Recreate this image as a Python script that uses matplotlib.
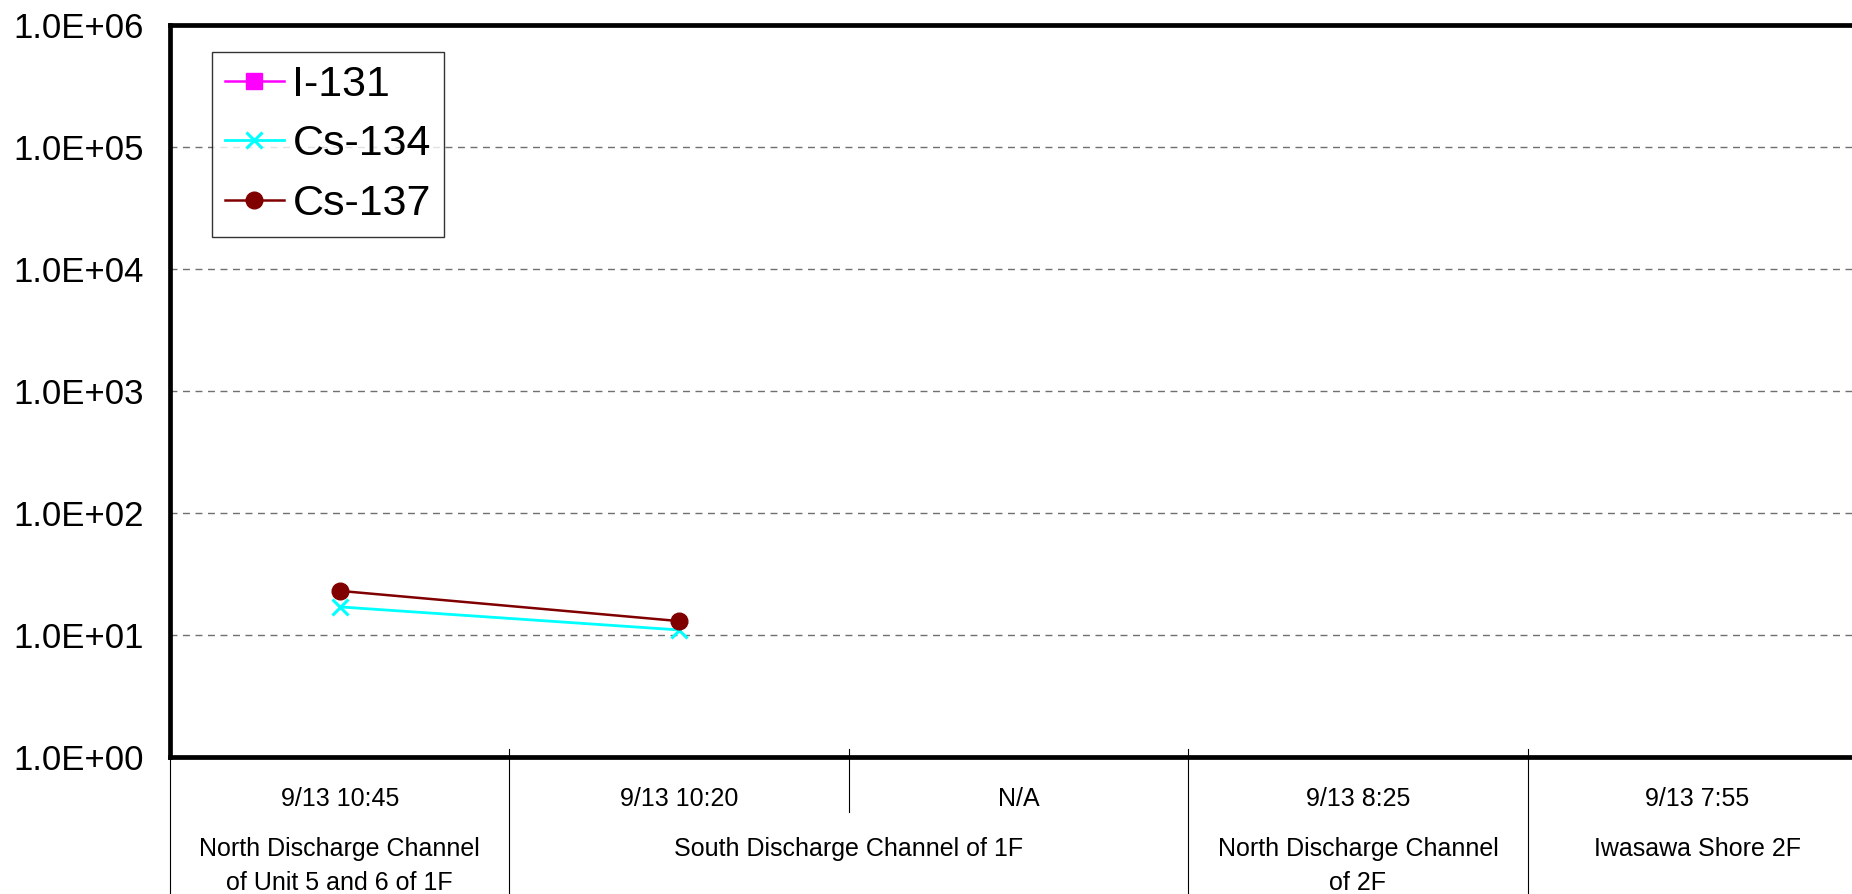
import matplotlib
matplotlib.use('Agg')
import matplotlib.pyplot as plt
import matplotlib.transforms as mtransforms
from matplotlib.ticker import FixedLocator, FuncFormatter
import numpy as np

# sampling times (one per category) and sampling locations
times = ['9/13 10:45', '9/13 10:20', 'N/A', '9/13 8:25', '9/13 7:55']
locations = ['North Discharge Channel\nof Unit 5 and 6 of 1F',
             'South Discharge Channel of 1F',
             'North Discharge Channel\nof 2F',
             'Iwasawa Shore 2F']
location_span = [(0, 0), (1, 2), (3, 3), (4, 4)]

# Bq/L, None = not detected
i131 = [None, None, None, None, None]
cs134 = [17, 11, None, None, None]
cs137 = [23, 13, None, None, None]

plt.rcParams['font.family'] = ['Liberation Sans', 'DejaVu Sans']

fig = plt.figure(figsize=(18.52, 8.94), dpi=100)
ax = fig.add_axes([170/1852, 137/894, 1697/1852, 732/894])

x = np.arange(len(times))


def series(vals):
    return np.array([np.nan if v is None else v for v in vals], dtype=float)


ax.plot(x, series(i131), color='#ff00ff', marker='s', markersize=11, lw=1.8, label='I-131')
ax.plot(x, series(cs134), color='#00ffff', marker='x', markersize=12, mew=2.2, lw=2.0, label='Cs-134')
ax.plot(x, series(cs137), color='#800000', marker='o', markersize=12, lw=1.8, label='Cs-137')

ax.set_yscale('log')
ax.set_ylim(1, 1e6)
ax.set_xlim(-0.5, len(times) - 0.5)
ax.yaxis.set_major_locator(FixedLocator([10.0 ** k for k in range(7)]))
ax.yaxis.set_minor_locator(FixedLocator([]))
ax.yaxis.set_major_formatter(FuncFormatter(lambda v, p: '%.1E' % v))
ax.tick_params(axis='y', length=0, pad=19, labelsize=25)
ax.set_xticks([])

for k in range(1, 6):
    ax.axhline(10.0 ** k, color='#707070', lw=1.0, ls=(0, (5, 4)), zorder=0)

for s in ['left', 'top', 'bottom']:
    ax.spines[s].set_linewidth(3.4)
ax.spines['right'].set_visible(False)

trans = mtransforms.blended_transform_factory(ax.transData, ax.transAxes)

# category separators
long_seps = [-0.5, 0.5, 2.5, 3.5, 4.5]
short_seps = [1.5]
for s in long_seps:
    ax.plot([s, s], [0.011 if s > -0.5 else 0, -0.19], color='black', lw=0.8,
            transform=trans, clip_on=False)
for s in short_seps:
    ax.plot([s, s], [0.011, -0.075], color='black', lw=0.8,
            transform=trans, clip_on=False)

for i, t in enumerate(times):
    ax.text(i, -0.058, t, transform=trans, ha='center', va='center', fontsize=18)

for lab, (a, b) in zip(locations, location_span):
    for j, line in enumerate(lab.split('\n')):
        ax.text((a + b) / 2, -0.126 - j * 0.046, line, transform=trans,
                ha='center', va='center', fontsize=18)

lgd = ax.legend(loc='upper left', bbox_to_anchor=(0.0247, 0.963), borderaxespad=0,
                fontsize=31, frameon=True, fancybox=False, edgecolor='black',
                handlelength=1.37, handletextpad=0.2, labelspacing=0.45,
                borderpad=0.3)
lgd.get_frame().set_linewidth(1.0)

fig.savefig('out.png', dpi=100)
